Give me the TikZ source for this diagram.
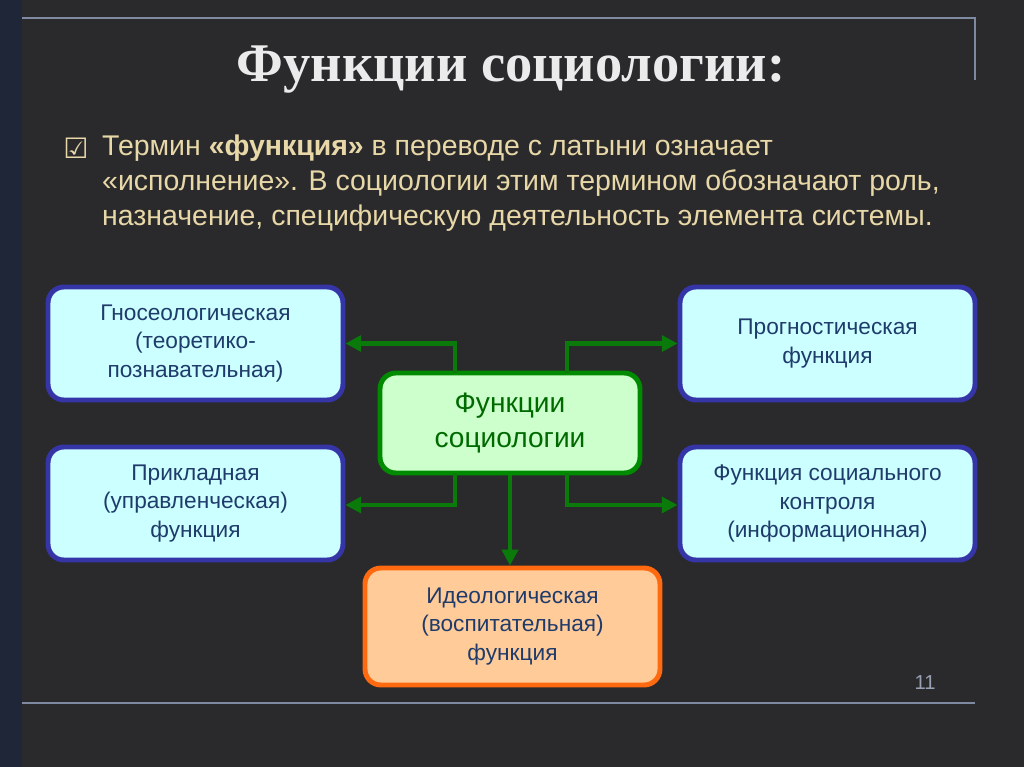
\documentclass[tikz,border=0pt]{standalone}
\usepackage{fontspec}
\setmainfont{Liberation Sans}
\newfontfamily\titlefont{Liberation Serif}
\newfontfamily\symfont{DejaVu Sans}
\usetikzlibrary{arrows.meta,positioning}

\definecolor{bgdark}{HTML}{2A2A2C}
\definecolor{stripblue}{HTML}{1E2638}
\definecolor{framegray}{HTML}{7F8AA0}
\definecolor{beige}{HTML}{E8D8A8}
\definecolor{navytext}{HTML}{1F3B6B}
\definecolor{bluebord}{HTML}{3535A8}
\definecolor{cyanfill}{HTML}{CCFFFF}
\definecolor{greenbord}{HTML}{008A00}
\definecolor{greenfill}{HTML}{CCFFCC}
\definecolor{greentext}{HTML}{006A00}
\definecolor{orangebord}{HTML}{FF6A10}
\definecolor{orangefill}{HTML}{FFCC99}
\definecolor{arrowgreen}{HTML}{0A7A0A}

\tikzset{
  funcbox/.style={draw=bluebord, fill=cyanfill, line width=2.8pt, rounded corners=9pt,
    minimum width=5.9cm, minimum height=2.26cm, align=center, text=navytext,
    font=\fontsize{12.9}{16.4}\selectfont},
  mainbox/.style={funcbox, draw=greenbord, fill=greenfill, text=greentext,
    minimum width=5.2cm, minimum height=2cm, font=\fontsize{16}{20}\selectfont},
  ideobox/.style={funcbox, draw=orangebord, fill=orangefill, minimum height=2.34cm},
  link/.style={draw=arrowgreen, line width=2.3pt, -{Triangle[length=9pt,width=9pt]}}
}

\begin{document}
\begin{tikzpicture}[x=0.02cm,y=-0.02cm]

\fill [bgdark] (0,0) rectangle (1024,767);
\fill [stripblue] (0,0) rectangle (22,767);
\useasboundingbox (0,0) rectangle (1024,767);

% FRAME
\draw [framegray, line width=1pt] (22,18) -- (975,18) -- (975,80);
\draw [framegray, line width=1pt] (22,703) -- (975,703);

% TITLE AND TEXT
\node (title) at (511,70) {\titlefont\bfseries\fontsize{31}{35}\selectfont\color{white!92!black} Функции социологии:};
\node (tick) at (76,148) {\symfont\bfseries\fontsize{16}{18}\selectfont\color{beige}☑};
\node [anchor=west, align=left, text=beige, font=\fontsize{16.2}{19.8}\selectfont] (intro) at (96,183)
  {Термин \textbf{«функция»} в переводе с латыни означает\\
   «исполнение». В социологии этим термином обозначают роль,\\
   назначение, специфическую деятельность элемента системы.};

% BOXES
\node [mainbox] (main) at (510,423) {Функции\\социологии};
\node [funcbox] (gnos) at (195.5,343.5) {Гносеологическая\\(теоретико-\\познавательная)};
\node [funcbox] (prog) at (827.5,343.5) {Прогностическая\\функция};
\node [funcbox] (appl) at (195.5,503.5) {Прикладная\\(управленческая)\\функция};
\node [funcbox] (ctrl) at (827.5,503.5) {Функция социального\\контроля\\(информационная)};
\node [ideobox] (ideo) at (512.5,626.5) {Идеологическая\\(воспитательная)\\функция};

% ARROWS
\coordinate (tl) at (455,373);
\coordinate (tr) at (567,373);
\coordinate (bl) at (455,473);
\coordinate (br) at (567,473);
\draw [link] (tl) |- (gnos.east);
\draw [link] (tr) |- (prog.west);
\draw [link] (bl) |- (appl.east |- 0,505);
\draw [link] (br) |- (ctrl.west |- 0,505);
\draw [link] (main.south) -- (ideo.north -| main.south);

\node [text=framegray!80!white, font=\fontsize{11.5}{13}\selectfont] (page) at (925,683) {11};

\end{tikzpicture}
\end{document}
